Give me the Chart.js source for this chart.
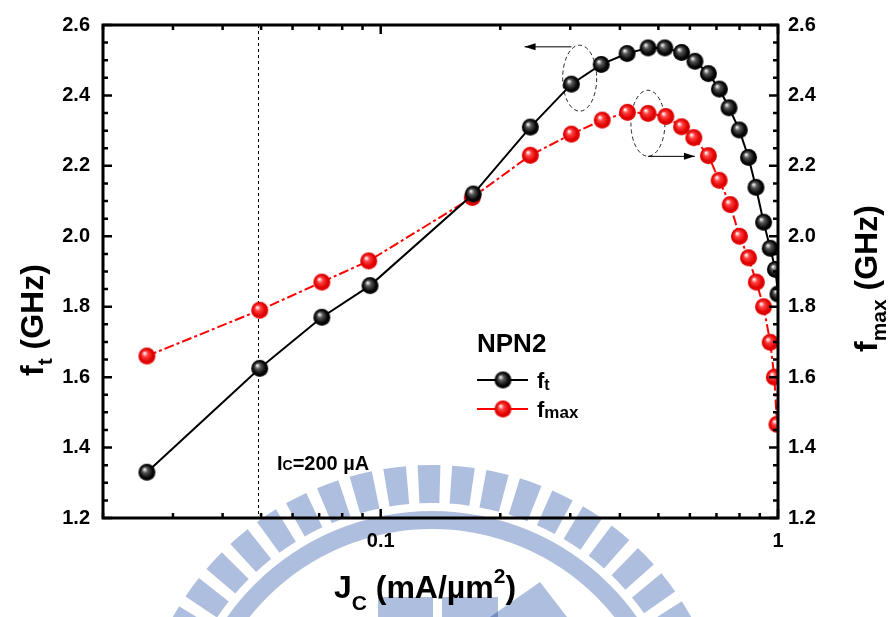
<!DOCTYPE html>
<html>
<head>
<meta charset="utf-8">
<script src="https://cdn.jsdelivr.net/npm/chart.js@4.4.1/dist/chart.umd.min.js"></script>
<style>
  html, body { margin: 0; padding: 0; background: #fff; }
  canvas { display: block; }
</style>
</head>
<body>
<canvas id="ftChart" width="889" height="617"></canvas>
<script>
// データ (J_C in mA/um^2, f in GHz)
const jcFt = [0.0258, 0.0496, 0.0711, 0.094, 0.171, 0.238, 0.302, 0.359, 0.417, 0.471, 0.519, 0.572,
              0.618, 0.668, 0.712, 0.753, 0.799, 0.843, 0.880, 0.920, 0.956, 0.985, 1.0];
const ftGHz = [1.33, 1.625, 1.77, 1.86, 2.12, 2.31, 2.432, 2.488, 2.519, 2.535, 2.535, 2.522,
               2.497, 2.462, 2.418, 2.365, 2.302, 2.224, 2.139, 2.04, 1.966, 1.906, 1.836];

const jcFmax = [0.0258, 0.0496, 0.0711, 0.0933, 0.170, 0.238, 0.302, 0.361, 0.418, 0.471, 0.522, 0.572,
                0.614, 0.668, 0.711, 0.758, 0.800, 0.843, 0.882, 0.920, 0.956, 0.979, 0.994];
const fmaxGHz = [1.66, 1.79, 1.87, 1.93, 2.11, 2.23, 2.29, 2.33, 2.352, 2.349, 2.34, 2.311,
                 2.28, 2.229, 2.159, 2.09, 2.0, 1.939, 1.87, 1.80, 1.699, 1.60, 1.466];

// 目盛り
const xTickValues = [0.1, 1];
const xMinorTicks = [0.02, 0.03, 0.04, 0.05, 0.06, 0.07, 0.08, 0.09, 0.2, 0.3, 0.4, 0.5, 0.6, 0.7, 0.8, 0.9];
const yMin = 1.2, yMax = 2.6;

// 注記
const icLineJc = 0.049;

const FONT = '"Liberation Sans", Arial, sans-serif';

// 球のマーカー
function makeBall(dark, mid, light, r) {
    const c = document.createElement('canvas');
    c.width = c.height = r * 2 + 2;
    const g = c.getContext('2d');
    const cx = r + 1, cy = r + 1;
    const grad = g.createRadialGradient(cx - r * 0.3, cy - r * 0.35, r * 0.05, cx, cy, r);
    grad.addColorStop(0, light);
    grad.addColorStop(0.3, mid);
    grad.addColorStop(0.75, dark);
    grad.addColorStop(1, dark);
    g.fillStyle = grad;
    g.beginPath();
    g.arc(cx, cy, r, 0, Math.PI * 2);
    g.fill();
    return c;
}
const blackBall = makeBall('#050505', '#555', '#f0f0f0', 8.5);
const redBall = makeBall('#e00000', '#ff4040', '#ffffff', 8.5);

// 文字列（添字付き）を描く
function drawRich(ctx, parts, x, y) {
    let cx = x;
    parts.forEach(p => {
        ctx.font = p.font;
        ctx.fillText(p.text, cx, y + (p.dy || 0));
        cx += ctx.measureText(p.text).width;
    });
    return cx - x;
}

function arrow(ctx, x1, y1, x2, y2) {
    ctx.beginPath();
    ctx.moveTo(x1, y1);
    ctx.lineTo(x2, y2);
    ctx.stroke();
    const a = Math.atan2(y2 - y1, x2 - x1);
    ctx.beginPath();
    ctx.moveTo(x2, y2);
    ctx.lineTo(x2 - 11 * Math.cos(a) + 3.5 * Math.sin(a), y2 - 11 * Math.sin(a) - 3.5 * Math.cos(a));
    ctx.lineTo(x2 - 11 * Math.cos(a) - 3.5 * Math.sin(a), y2 - 11 * Math.sin(a) + 3.5 * Math.cos(a));
    ctx.closePath();
    ctx.fill();
}

const annotationPlugin = {
    id: 'annotations',
    beforeDatasetsDraw(chart) {
        const { ctx, chartArea: a, scales } = chart;
        const xs = scales.x, ys = scales.y;
        ctx.save();
        // Ic = 200 uA の点線
        ctx.strokeStyle = '#000';
        ctx.lineWidth = 1;
        ctx.setLineDash([3, 3]);
        const xl = Math.round(xs.getPixelForValue(icLineJc)) + 0.5;
        ctx.beginPath();
        ctx.moveTo(xl, a.top);
        ctx.lineTo(xl, a.bottom);
        ctx.stroke();

        // 楕円
        ctx.strokeStyle = '#222';
        ctx.setLineDash([4, 3]);
        [[0.3168, 2.449], [0.4705, 2.321]].forEach(([vx, vy]) => {
            ctx.beginPath();
            ctx.ellipse(xs.getPixelForValue(vx), ys.getPixelForValue(vy), 17, 33, 0, 0, Math.PI * 2);
            ctx.stroke();
        });
        ctx.setLineDash([]);
        ctx.fillStyle = '#000';
        ctx.strokeStyle = '#000';
        arrow(ctx, xs.getPixelForValue(0.302), ys.getPixelForValue(2.538),
                   xs.getPixelForValue(0.2302), ys.getPixelForValue(2.538));
        arrow(ctx, xs.getPixelForValue(0.4705), ys.getPixelForValue(2.227),
                   xs.getPixelForValue(0.618), ys.getPixelForValue(2.227));
        ctx.restore();
    },
    afterDraw(chart) {
        const { ctx, chartArea: a, scales } = chart;
        const xs = scales.x, ys = scales.y;
        ctx.save();
        ctx.fillStyle = '#000';
        ctx.strokeStyle = '#000';

        // 目盛り（内向き）
        ctx.lineWidth = 2.5;
        ctx.beginPath();
        for (let v = yMin; v <= yMax + 1e-9; v += 0.05) {
            const py = ys.getPixelForValue(v);
            const major = Math.abs(Math.round(v * 5) - v * 5) < 1e-6;
            const len = major ? 9 : 5;
            ctx.moveTo(a.left, py); ctx.lineTo(a.left + len, py);
            ctx.moveTo(a.right, py); ctx.lineTo(a.right - len, py);
        }
        xTickValues.concat(xMinorTicks).forEach(v => {
            const px = xs.getPixelForValue(v);
            const len = xTickValues.includes(v) ? 9 : 5;
            ctx.moveTo(px, a.bottom); ctx.lineTo(px, a.bottom - len);
            ctx.moveTo(px, a.top); ctx.lineTo(px, a.top + len);
        });
        ctx.stroke();

        // 枠
        ctx.lineWidth = 3;
        ctx.strokeRect(a.left, a.top, a.right - a.left, a.bottom - a.top);

        // 軸タイトル
        ctx.textAlign = 'left';
        ctx.textBaseline = 'alphabetic';
        const big = 'bold 32px ' + FONT, small = 'bold 21px ' + FONT;
        // x
        const xParts = [
            { text: 'J', font: big },
            { text: 'C', font: small, dy: 12 },
            { text: ' (mA/\u00b5m', font: big },
            { text: '2', font: small, dy: -15 },
            { text: ')', font: big }
        ];
        let w = 0;
        xParts.forEach(p => { ctx.font = p.font; w += ctx.measureText(p.text).width; });
        drawRich(ctx, xParts, 425 - w / 2, 598);

        // 左 y
        ctx.save();
        ctx.translate(43, 376);
        ctx.rotate(-Math.PI / 2);
        drawRich(ctx, [
            { text: 'f', font: big },
            { text: 't', font: small, dy: 9 },
            { text: ' (GHz)', font: big }
        ], 0, 0);
        ctx.restore();

        // 右 y
        ctx.save();
        ctx.translate(877, 352);
        ctx.rotate(-Math.PI / 2);
        drawRich(ctx, [
            { text: 'f', font: big },
            { text: 'max', font: small, dy: 9 },
            { text: ' (GHz)', font: big }
        ], 0, 0);
        ctx.restore();

        // 凡例
        ctx.font = 'bold 26px ' + FONT;
        ctx.fillText('NPN2', 477, 352);
        ctx.lineWidth = 2;
        ctx.strokeStyle = '#000';
        ctx.beginPath(); ctx.moveTo(477, 380); ctx.lineTo(528, 380); ctx.stroke();
        ctx.drawImage(blackBall, 503 - blackBall.width / 2, 380 - blackBall.height / 2);
        ctx.strokeStyle = '#f00';
        ctx.beginPath(); ctx.moveTo(477, 409); ctx.lineTo(528, 409); ctx.stroke();
        ctx.drawImage(redBall, 503 - redBall.width / 2, 409 - redBall.height / 2);
        drawRich(ctx, [
            { text: 'f', font: 'bold 22px ' + FONT },
            { text: 't', font: 'bold 16px ' + FONT, dy: 2 }
        ], 537, 388);
        drawRich(ctx, [
            { text: 'f', font: 'bold 22px ' + FONT },
            { text: 'max', font: 'bold 17px ' + FONT, dy: 1 }
        ], 537, 417);

        // Ic ラベル
        drawRich(ctx, [
            { text: 'I', font: 'bold 20px ' + FONT },
            { text: 'C', font: 'bold 14px ' + FONT },
            { text: '=200 \u00b5A', font: 'bold 20px ' + FONT }
        ], 277, 470);

        // 透かし
        ctx.globalCompositeOperation = 'multiply';
        ctx.fillStyle = 'rgb(174,190,222)';
        const cx = 432, cy = 762;
        const n = 54, step = Math.PI * 2 / n;
        for (let k = 0; k < n; k++) {
            const ang = -Math.PI / 2 + k * step - 0.01;
            const half = step * 0.33;
            ctx.beginPath();
            ctx.arc(cx, cy, 297, ang - half, ang + half);
            ctx.arc(cx, cy, 259, ang + half, ang - half, true);
            ctx.closePath();
            ctx.fill();
        }
        ctx.beginPath();
        ctx.arc(cx, cy, 251, 0, Math.PI * 2);
        ctx.arc(cx, cy, 233, 0, Math.PI * 2, true);
        ctx.fill();
        ctx.fillRect(378, 597, 55, 20);
        ctx.fillRect(442, 597, 56, 20);
        ctx.beginPath();
        ctx.moveTo(490, 617); ctx.lineTo(540, 582); ctx.lineTo(567, 617);
        ctx.closePath();
        ctx.fill();
        ctx.restore();
    }
};

const tickFont = { family: FONT, size: 20, weight: 'bold' };

new Chart(document.getElementById('ftChart').getContext('2d'), {
    type: 'line',
    data: {
        datasets: [
            {
                label: 'ft',
                data: jcFt.map((x, i) => ({ x: x, y: ftGHz[i] })),
                yAxisID: 'y',
                borderColor: '#000',
                borderWidth: 2,
                pointStyle: blackBall,
                pointRadius: 8,
                tension: 0
            },
            {
                label: 'fmax',
                data: jcFmax.map((x, i) => ({ x: x, y: fmaxGHz[i] })),
                yAxisID: 'y2',
                borderColor: '#f00',
                borderWidth: 2,
                borderDash: [10, 3, 3, 3],
                pointStyle: redBall,
                pointRadius: 8,
                tension: 0
            }
        ]
    },
    options: {
        responsive: false,
        animation: false,
        layout: { padding: { top: 23, left: 0, right: 0, bottom: 0 } },
        plugins: {
            legend: { display: false },
            tooltip: { enabled: false }
        },
        scales: {
            x: {
                type: 'logarithmic',
                position: 'bottom',
                min: 0.02,
                max: 1,
                grid: { display: false, drawTicks: false },
                border: { display: false },
                ticks: {
                    font: tickFont,
                    color: '#000',
                    padding: 11,
                    autoSkip: false,
                    maxRotation: 0,
                    callback: v => String(v)
                },
                afterBuildTicks: s => { s.ticks = xTickValues.map(v => ({ value: v })); },
                afterFit: s => { s.height = 99; }
            },
            y: {
                type: 'linear',
                position: 'left',
                min: yMin,
                max: yMax,
                grid: { display: false, drawTicks: false },
                border: { display: false },
                ticks: {
                    stepSize: 0.2,
                    font: tickFont,
                    color: '#000',
                    padding: 13,
                    callback: v => v.toFixed(1)
                },
                afterFit: s => { s.width = 103; }
            },
            y2: {
                type: 'linear',
                position: 'right',
                min: yMin,
                max: yMax,
                grid: { display: false, drawTicks: false },
                border: { display: false },
                ticks: {
                    stepSize: 0.2,
                    font: tickFont,
                    color: '#000',
                    padding: 10,
                    callback: v => v.toFixed(1)
                },
                afterFit: s => { s.width = 111; }
            }
        }
    },
    plugins: [annotationPlugin]
});
</script>
</body>
</html>
